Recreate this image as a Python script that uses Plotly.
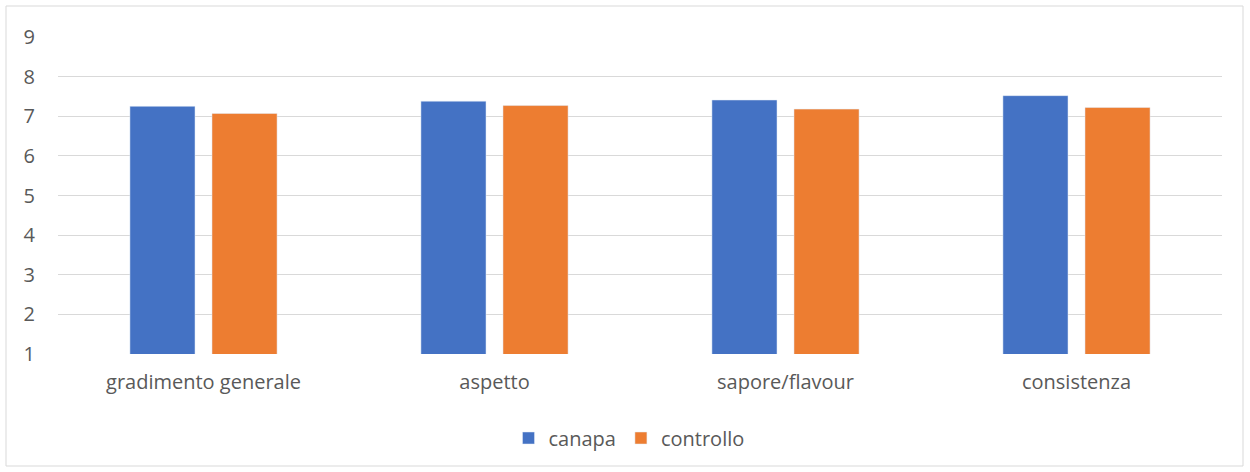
import plotly.graph_objects as go

categories = ["gradimento generale", "aspetto", "sapore/flavour", "consistenza"]
canapa = [7.25, 7.38, 7.41, 7.52]
controllo = [7.07, 7.27, 7.18, 7.22]
y_ticks = [1, 2, 3, 4, 5, 6, 7, 8, 9]

W, H = 1250, 472
L, R, T, B = 58, 28, 37, 118
pw, ph = W - L - R, H - T - B

fig = go.Figure()
fig.add_trace(go.Bar(name="canapa", x=categories, y=canapa, marker_color="#4472C4"))
fig.add_trace(go.Bar(name="controllo", x=categories, y=controllo, marker_color="#ED7D31"))

font = "Open Sans, Noto Sans, sans-serif"
fig.update_layout(
    width=W, height=H,
    margin=dict(l=L, r=R, t=T, b=B),
    paper_bgcolor="white", plot_bgcolor="white",
    barmode="group", bargap=0.436, bargroupgap=0.207,
    font=dict(family=font, size=20, color="#595959"),
    showlegend=True,
    legend=dict(orientation="h", x=0.5 - 11 / pw, xanchor="center", y=(354 - 438) / ph,
                yanchor="middle", font=dict(size=20, color="#595959"), itemwidth=30,
                traceorder="normal"),
    xaxis=dict(showgrid=False, zeroline=False, showline=False, ticks="",
               tickfont=dict(size=20, color="#595959"), ticklabelstandoff=14),
    yaxis=dict(range=[1, 9], tickvals=y_ticks, showgrid=True, gridcolor="#D9D9D9",
               gridwidth=1, zeroline=False, showline=False, ticks="",
               tickfont=dict(size=20, color="#595959"), ticklabelstandoff=22),
    shapes=[dict(type="rect", xref="paper", yref="paper",
                 x0=(6 - L) / pw, x1=(1243 - L) / pw,
                 y0=(H - B - 466) / ph, y1=(H - B - 6) / ph,
                 line=dict(color="#D9D9D9", width=1), fillcolor="rgba(0,0,0,0)", layer="below")],
)

fig.write_html("out.html")
